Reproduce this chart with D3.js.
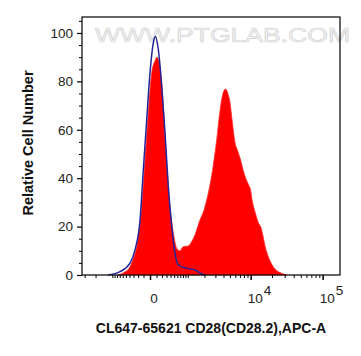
<!DOCTYPE html>
<html>
<head>
<meta charset="utf-8">
<script src="https://cdn.jsdelivr.net/npm/d3@7"></script>
<style>
body { margin: 0; background: #fff; }
svg { display: block; }
</style>
</head>
<body>
<div id="chart"></div>
<script>
// sample histogram (red, filled)
var redX = [-764, -589, -385, -300, -229, -131, -75, -24, 24, 75, 108, 162, 216, 288, 367, 476, 598, 683, 814, 1028,
  1194, 1373, 1682, 1913, 2179, 2466, 2784, 3147, 3478, 3798, 4073, 4292, 4600, 5011, 5367, 5940, 6571, 7147, 7765, 8434,
  9321, 9948, 10450, 11530, 12716, 14018, 14956, 15950, 17578, 19360, 22022, 25841, 32308];
var redY = [0, 0.8, 3.4, 7, 11.7, 28.3, 47.6, 67, 83.5, 88.5, 90, 86, 73.8, 50.4, 31, 17.3, 10.6, 10, 11.7, 12,
  13.8, 16.6, 22.8, 26, 31, 37.3, 45.5, 55.9, 66.3, 73.3, 76.2, 76.8, 75.4, 71.2, 64.2, 54.7, 50.9, 47.6, 43.5, 40.2,
  37.3, 35.2, 31.1, 26.1, 21.9, 19.5, 16.1, 12, 7.9, 5, 2.5, 1, 0];

// control histogram (blue line)
var blueX = [-1209, -691, -385, -265, -162, -103, -48, 0, 48, 80, 131, 196, 265, 342, 431, 526, 632, 955, 1373, 1798, 2043];
var blueY = [0, 1.4, 4.9, 10.4, 22.8, 43.5, 64.2, 83.6, 95.9, 98.5, 93.2, 77.9, 58.8, 36.6, 20.2, 9, 4.1, 2.8, 2.1, 0.4, 0];

var yTicks = [0, 20, 40, 60, 80, 100];
var yMinor = [5, 10, 15, 25, 30, 35, 45, 50, 55, 65, 70, 75, 85, 90, 95, 105];
var xMajor = [0, 10000, 100000];
var xLabelBase = ["0", "10", "10"];
var xLabelExp = ["", "4", "5"];
var xMinor = [-3000, -2000, -1000, -900, -800, -700, -600, -500, -400, -300, -200, -100,
  100, 200, 300, 400, 500, 600, 700, 800, 900, 1000, 2000, 3000, 4000, 5000, 6000, 7000, 8000, 9000,
  20000, 30000, 40000, 50000, 60000, 70000, 80000, 90000];

var width = 361, height = 356;
var plotLeft = 82, plotRight = 340, plotTop = 17, plotBottom = 275;

var svg = d3.select('#chart')
.append('svg')
  .attr('width', width)
  .attr('height', height);

var x = d3.scaleSymlog()
  .constant(440)
  .domain([-3300, 173000])
  .range([plotLeft, plotRight]);
var y = d3.scaleLinear()
  .domain([0, 106.6])
  .range([plotBottom, plotTop]);

// watermark
svg.append('text')
  .attr('x', 95)
  .attr('y', 42)
  .attr('textLength', 255)
  .attr('lengthAdjust', 'spacingAndGlyphs')
  .style('font-family', 'Liberation Sans, Arial, sans-serif')
  .style('font-size', '20px')
  .style('fill', '#f2f2f2')
  .style('stroke', '#d2d2d2')
  .style('stroke-width', 0.6)
  .text('WWW.PTGLAB.COM');

var redData = redX.map(function(v, i) { return [v, redY[i]]; });
var blueData = blueX.map(function(v, i) { return [v, blueY[i]]; });

var area = d3.area()
  .x(function(d) { return x(d[0]); })
  .y0(y(0))
  .y1(function(d) { return y(d[1]); })
  .curve(d3.curveMonotoneX);
var line = d3.line()
  .x(function(d) { return x(d[0]); })
  .y(function(d) { return y(d[1]); })
  .curve(d3.curveMonotoneX);

svg.append('path')
  .datum(redData)
  .attr('d', area)
  .style('fill', '#ff0000')
  .style('stroke', '#ff2a2a')
  .style('stroke-width', 0.8);

svg.append('path')
  .datum(blueData)
  .attr('d', line)
  .style('fill', 'none')
  .style('stroke', '#24249a')
  .style('stroke-width', 1.5);

// frame
svg.append('rect')
  .attr('x', plotLeft)
  .attr('y', plotTop)
  .attr('width', plotRight - plotLeft)
  .attr('height', plotBottom - plotTop)
  .style('fill', 'none')
  .style('stroke', '#000')
  .style('stroke-width', 1.2);

//--------------- Y AXIS --------------------
var yAxis = svg.append('g')
  .attr('transform', 'translate(' + plotLeft + ',0)')
  .call(d3.axisLeft(y).tickValues(yTicks).tickSize(5).tickPadding(4));
yAxis.select('.domain').remove();
yAxis.selectAll('text')
  .style('font-family', 'Liberation Sans, Arial, sans-serif')
  .style('font-size', '13.5px')
  .style('fill', '#222');
yAxis.selectAll('line').style('stroke-width', 1.2);

var yMin = svg.append('g')
  .attr('transform', 'translate(' + plotLeft + ',0)')
  .call(d3.axisLeft(y).tickValues(yMinor).tickSize(3).tickFormat(''));
yMin.select('.domain').remove();

//--------------- X AXIS --------------------
var xAxis = svg.append('g')
  .attr('transform', 'translate(0,' + plotBottom + ')')
  .call(d3.axisBottom(x).tickValues(xMajor).tickSize(5).tickFormat(''));
xAxis.select('.domain').remove();
xAxis.selectAll('line').style('stroke-width', 1.5);

var xMin = svg.append('g')
  .attr('transform', 'translate(0,' + plotBottom + ')')
  .call(d3.axisBottom(x).tickValues(xMinor).tickSize(3).tickFormat(''));
xMin.select('.domain').remove();

xMajor.forEach(function(v, i) {
  var t = svg.append('text')
    .attr('y', 303)
    .style('font-family', 'Liberation Sans, Arial, sans-serif')
    .style('font-size', '13.5px')
    .style('fill', '#222');
  t.append('tspan').text(xLabelBase[i]);
  if (xLabelExp[i] != '') {
    t.attr('x', x(v) - 3).attr('text-anchor', 'start');
    t.append('tspan')
      .attr('dy', -8)
      .attr('dx', 1)
      .text(xLabelExp[i]);
  }
  else {
    t.attr('x', x(v) + 4).attr('text-anchor', 'middle');
  }
});

// axis titles
svg.append('text')
  .attr('transform', 'translate(33,143) rotate(-90)')
  .attr('text-anchor', 'middle')
  .style('font-family', 'Liberation Sans, Arial, sans-serif')
  .style('font-weight', 'bold')
  .style('font-size', '14.5px')
  .style('fill', '#111')
  .text('Relative Cell Number');

svg.append('text')
  .attr('x', 211)
  .attr('y', 333)
  .attr('text-anchor', 'middle')
  .style('font-family', 'Liberation Sans, Arial, sans-serif')
  .style('font-weight', 'bold')
  .style('font-size', '14px')
  .style('fill', '#111')
  .text('CL647-65621 CD28(CD28.2),APC-A');
</script>
</body>
</html>
